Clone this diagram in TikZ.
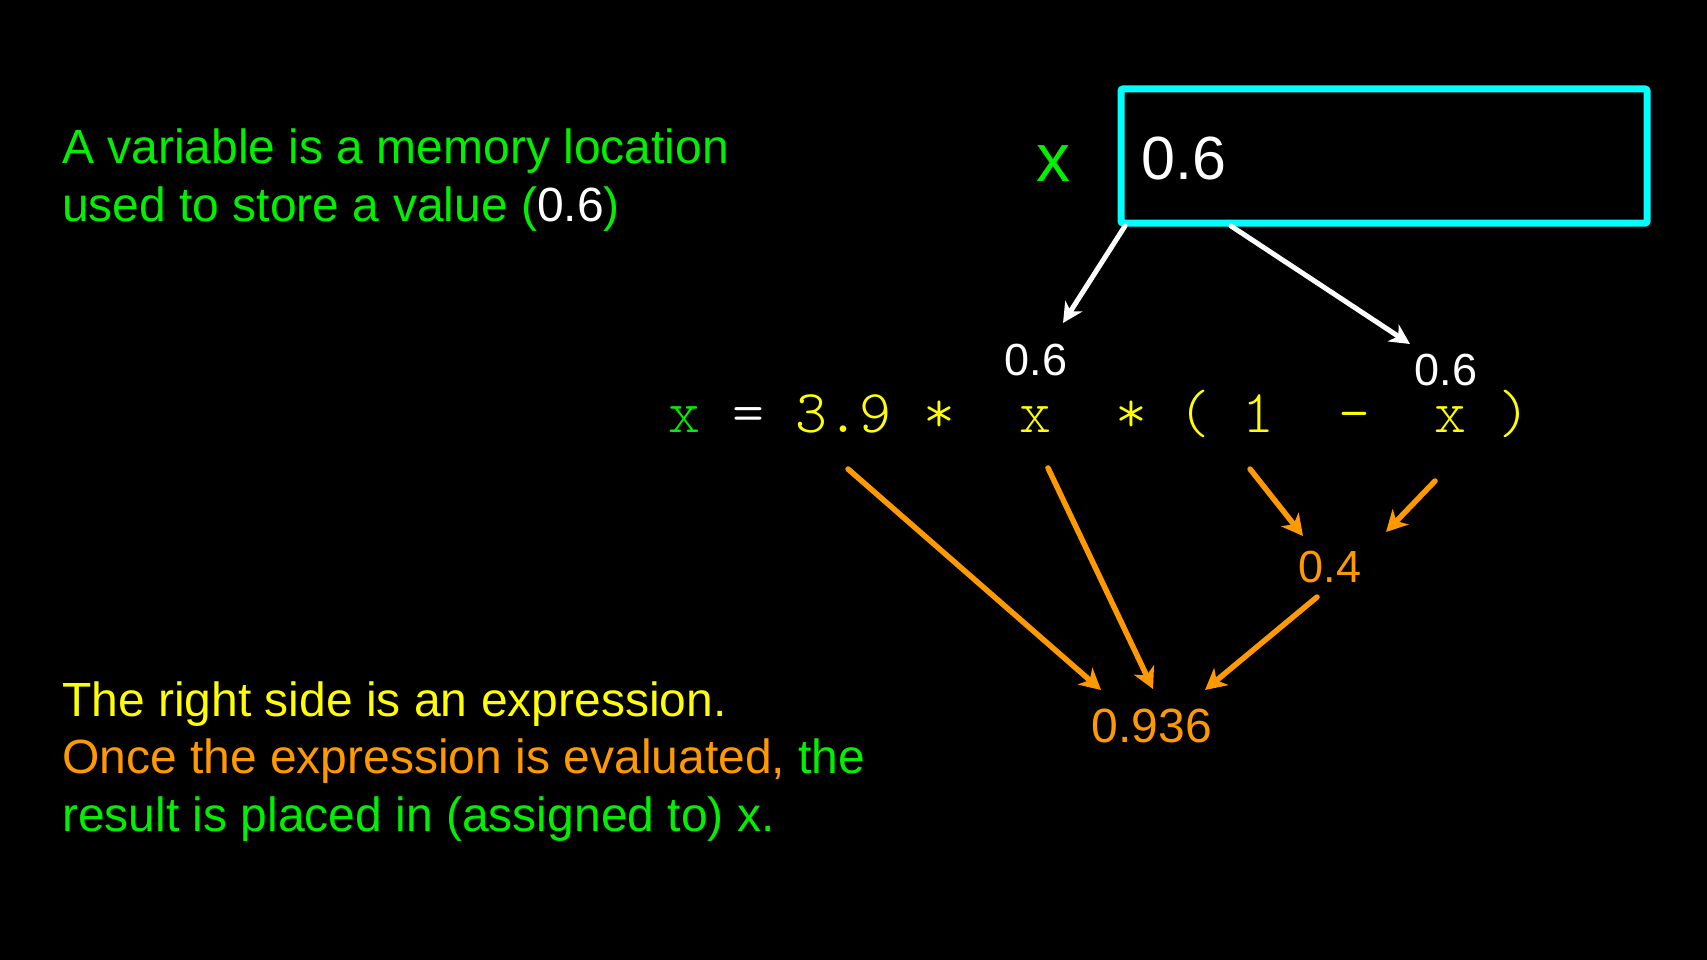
\documentclass[tikz,border=0pt]{standalone}
\usepackage{fontspec}
\setmainfont{Liberation Sans}
\newfontfamily\codefont{Latin Modern Mono Light}
\usetikzlibrary{arrows.meta}
\definecolor{vgreen}{RGB}{0,240,0}
\definecolor{vyellow}{RGB}{255,255,0}
\definecolor{vorange}{RGB}{255,153,0}
\definecolor{vcyan}{RGB}{0,255,255}
\tikzset{
  txt/.style={inner sep=0pt, anchor=base west, font=\fontsize{48}{58}\selectfont},
  val/.style={inner sep=0pt, anchor=base, font=\fontsize{45}{54}\selectfont},
  warrow/.style={draw=white, line width=5pt, line cap=round, -{Stealth[length=20pt,width=20pt,inset=6pt]}},
  oarrow/.style={draw=vorange, line width=5.5pt, line cap=round, -{Stealth[length=21pt,width=22pt,inset=6pt]}},
  membox/.style={draw=vcyan, line width=7pt, rounded corners=2pt, minimum width=526pt, minimum height=134pt, inner sep=0pt}
}
\begin{document}
\begin{tikzpicture}[x=1pt,y=-1pt]
\fill[black] (0,0) rectangle (1707,960);
\useasboundingbox (0,0) rectangle (1707,960);

% left texts
\node[txt, text=vgreen] (tA1) at (62,164) {A variable is a memory location};
\node[txt, text=vgreen] (tA2) at (62,222) {used to store a value (\textcolor{white}{0.6})};
\node[txt, text=vyellow] (tB1) at (62,716) {The right side is an expression.};
\node[txt, text=vorange] (tB2) at (62,773) {Once the expression is evaluated, \textcolor{vgreen}{the}};
\node[txt, text=vgreen] (tB3) at (62,831) {result is placed in (assigned to) x.};

% memory box
\node[membox] (box) at (1384,156) {};
\node[inner sep=0pt, anchor=base west, text=white, font=\fontsize{61}{70}\selectfont] (boxval) at (1141,180) {0.6};
\node[inner sep=0pt, anchor=base, text=vgreen, font=\fontsize{68}{80}\selectfont] (varname) at (1053,182) {x};

% code line
\node[inner sep=0pt, anchor=base west, text=vyellow, font=\codefont\fontsize{60.8}{70}\selectfont] (code) at (668,432)
  {\textcolor{vgreen}{x}~\textcolor{white}{=}~3.9~*~~x~~*~(~1~~-~~x~)};

% values
\node[val, text=white] (v1) at (1036,375) {0.6};
\node[val, text=white] (v2) at (1446,385) {0.6};
\node[val, text=vorange] (r1) at (1330,582) {0.4};
\node[val, text=vorange, font=\fontsize{48}{58}\selectfont] (res) at (1152,742) {0.936};

% arrow end points
\coordinate (w1s) at (1125,226);
\coordinate (w1e) at (1063,323);
\coordinate (w2s) at (1231,226);
\coordinate (w2e) at (1410,344);
\coordinate (o1s) at (848,469);
\coordinate (o1e) at (1101,690);
\coordinate (o2s) at (1048,468);
\coordinate (o2e) at (1153,689);
\coordinate (o3s) at (1250,469);
\coordinate (o3e) at (1303,536);
\coordinate (o4s) at (1435,481);
\coordinate (o4e) at (1386,532);
\coordinate (o5s) at (1317,597);
\coordinate (o5e) at (1205,690);

\draw[warrow] (w1s) -- (w1e);
\draw[warrow] (w2s) -- (w2e);
\draw[oarrow] (o1s) -- (o1e);
\draw[oarrow] (o2s) -- (o2e);
\draw[oarrow] (o3s) -- (o3e);
\draw[oarrow] (o4s) -- (o4e);
\draw[oarrow] (o5s) -- (o5e);
\end{tikzpicture}
\end{document}
